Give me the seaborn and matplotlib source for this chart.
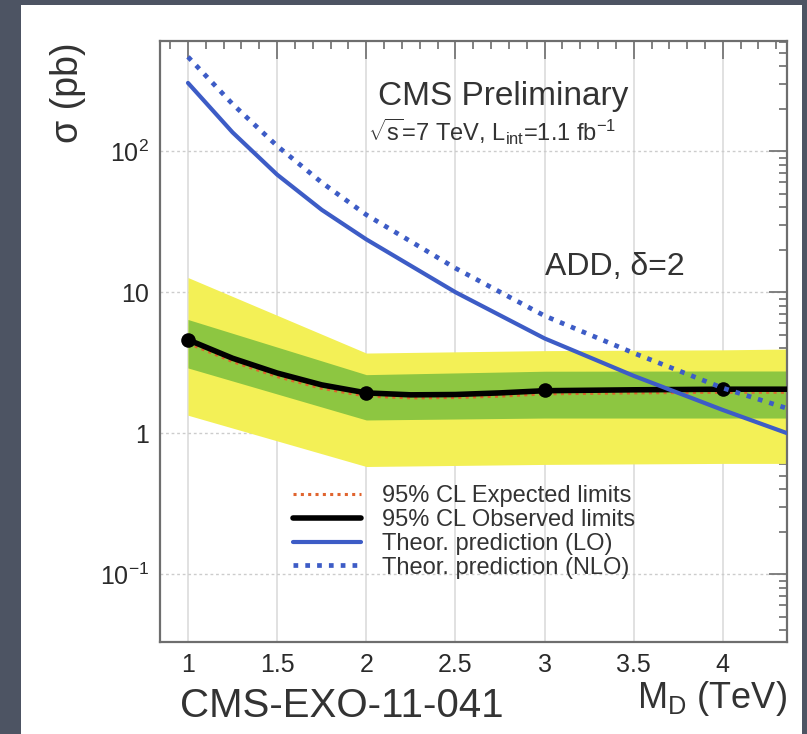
import numpy as np
import pandas as pd
import seaborn as sns
import matplotlib
matplotlib.use("Agg")
import matplotlib.pyplot as plt
from matplotlib.patches import Rectangle
from matplotlib.ticker import FixedLocator, FixedFormatter, MultipleLocator, LogLocator, NullFormatter, FuncFormatter

# ---------------- data ----------------
obs_pts_x = [1, 2, 3, 4]
obs_pts_y = [4.6, 1.93, 2.02, 2.05]

curve_x = [1.0, 1.25, 1.5, 1.75, 2.0, 2.25, 2.5, 2.75, 3.0, 3.5, 4.0, 4.36]
observed = [4.6, 3.4, 2.67, 2.2, 1.93, 1.87, 1.88, 1.93, 2.0, 2.03, 2.05, 2.05]
expected = [4.35, 3.22, 2.52, 2.08, 1.83, 1.78, 1.79, 1.83, 1.9, 1.93, 1.95, 1.95]

band_x = [1.0, 2.0, 3.0, 4.0, 4.36]
yellow_lo = [1.34, 0.58, 0.60, 0.61, 0.61]
yellow_hi = [12.7, 3.7, 3.85, 3.9, 3.95]
green_lo = [2.9, 1.24, 1.28, 1.28, 1.28]
green_hi = [6.4, 2.6, 2.75, 2.76, 2.76]

theory_x = [1.0, 1.25, 1.5, 1.75, 2.0, 2.5, 3.0, 3.5, 4.0, 4.36]
theory_lo = [305, 136, 68.2, 38.4, 23.7, 10.0, 4.7, 2.55, 1.46, 1.0]
theory_nlo = [467, 216, 109, 60, 35.4, 14.8, 6.8, 3.7, 2.09, 1.5]

y_tick_vals = [0.1, 1, 10, 100]
y_tick_labels = [r"$10^{-1}$", "1", "10", r"$10^{2}$"]

legend_labels = ["95% CL Expected limits", "95% CL Observed limits",
                 "Theor. prediction (LO)", "Theor. prediction (NLO)"]

# ---------------- style ----------------
sns.set_theme(style="white")
plt.rcParams["font.family"] = ["Liberation Sans", "DejaVu Sans"]
plt.rcParams["mathtext.fontset"] = "custom"
plt.rcParams["mathtext.rm"] = "Liberation Sans"
plt.rcParams["mathtext.it"] = "Liberation Sans:italic"
plt.rcParams["mathtext.bf"] = "Liberation Sans:bold"

W, H = 807, 734
fig = plt.figure(figsize=(W / 100, H / 100), dpi=100, facecolor="#4d5463")
fig.patches.append(Rectangle((21 / W, 0), 781 / W, (H - 5) / H, transform=fig.transFigure,
                             facecolor="white", edgecolor="none", zorder=-10))

ax = fig.add_axes([160 / W, (H - 642) / H, (787 - 160) / W, (642 - 41) / H])
ax.set_zorder(5)
ax.set_facecolor("white")
ax.set_yscale("log")
ax.set_xlim(0.843, 4.36)
ax.set_ylim(0.033, 605)

blue = "#3d5cc6"
ax.fill_between(band_x, yellow_lo, yellow_hi, color="#f3f056", lw=0, zorder=1)
ax.fill_between(band_x, green_lo, green_hi, color="#8dc641", lw=0, zorder=2)

sns.lineplot(x=curve_x, y=expected, ax=ax, color="#e0642e", linewidth=2.2,
             linestyle=(0, (1, 1.4)), label=legend_labels[0], zorder=3, estimator=None)
sns.lineplot(x=curve_x, y=observed, ax=ax, color="black", linewidth=4,
             label=legend_labels[1], zorder=4, estimator=None)
sns.scatterplot(x=obs_pts_x, y=obs_pts_y, ax=ax, color="black", s=110, zorder=5,
                edgecolor="black", linewidth=0)
sns.lineplot(x=theory_x, y=theory_lo, ax=ax, color=blue, linewidth=3,
             label=legend_labels[2], zorder=6, estimator=None)
sns.lineplot(x=theory_x, y=theory_nlo, ax=ax, color=blue, linewidth=3.4,
             linestyle=(0, (1, 1.5)), label=legend_labels[3], zorder=7, estimator=None)

# ticks
ax.xaxis.set_major_locator(MultipleLocator(0.5))
ax.xaxis.set_minor_locator(MultipleLocator(0.1))
ax.xaxis.set_major_formatter(FuncFormatter(lambda v, p: "%g" % v))
ax.yaxis.set_major_locator(FixedLocator(y_tick_vals))
ax.yaxis.set_major_formatter(FixedFormatter(y_tick_labels))
ax.yaxis.set_minor_locator(LogLocator(base=10, subs=np.arange(2, 10)))
ax.yaxis.set_minor_formatter(NullFormatter())
ax.tick_params(which="both", direction="in", top=True, right=True, colors="#777777",
               labelcolor="#2a2a2a", labelsize=18, width=1.3)
ax.tick_params(which="major", length=13)
ax.tick_params(which="minor", length=6)
ax.tick_params(axis="x", pad=8)
ax.tick_params(axis="y", pad=8)

for s in ax.spines.values():
    s.set_color("#6e6e6e")
    s.set_linewidth(1.6)

ax.set_axisbelow(True)
ax.grid(False)
ax.xaxis.grid(True, which="major", color="#dedede", linewidth=1.3, linestyle="-")
ax.yaxis.grid(True, which="major", color="#cccccc", linewidth=1.0, linestyle=(0, (2, 2)))

# legend
handles, labels = ax.get_legend_handles_labels()
order = [labels.index(l) for l in legend_labels]
leg = ax.legend([handles[i] for i in order], [labels[i] for i in order],
                loc="upper left", bbox_to_anchor=(293 / W, 1 - 485 / H),
                bbox_transform=fig.transFigure, frameon=False, fontsize=17,
                handlelength=2.9, handletextpad=0.85, labelspacing=0.08,
                borderpad=0, borderaxespad=0, labelcolor="#333333")

# texts inside
ax.text(503 / W, 1 - 96 / H, "CMS Preliminary", transform=fig.transFigure, ha="center",
        va="center", fontsize=24, color="#333333")
ax.text(492 / W, 1 - 132 / H, r"$\sqrt{\mathrm{s}}$=7 TeV, L$_{\rm int}$=1.1 fb$^{-1}$",
        transform=fig.transFigure, ha="center", va="center", fontsize=17, color="#333333")
ax.text(615 / W, 1 - 267 / H, r"ADD, δ=2", transform=fig.transFigure, ha="center",
        va="center", fontsize=23, color="#333333")

# labels outside
fig.text(68 / W, 1 - 93 / H, "σ (pb)", rotation=90, ha="center", va="center",
         fontsize=27, color="#333333")
fig.text(712 / W, 1 - 698 / H, r"M$_{\rm D}$ (TeV)", ha="center", va="center",
         fontsize=26, color="#333333")
fig.text(180 / W, 1 - 706 / H, "CMS-EXO-11-041", ha="left", va="center",
         fontsize=29, color="#333333")

fig.savefig("out.png", dpi=100, facecolor=fig.get_facecolor())
